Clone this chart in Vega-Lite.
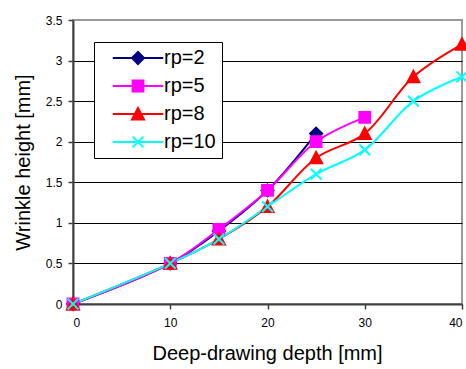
{
  "$schema": "https://vega.github.io/schema/vega-lite/v6.json",
  "width": 389,
  "height": 284,
  "autosize": {"type": "none"},
  "padding": {"left": 73, "top": 20, "right": 4, "bottom": 65},
  "background": "white",
  "config": {
    "font": "Liberation Sans",
    "view": {"stroke": "#999999", "strokeWidth": 2},
    "axis": {
      "labelFont": "Liberation Sans",
      "titleFont": "Liberation Sans",
      "labelFontSize": 12,
      "labelColor": "black",
      "titleColor": "black",
      "titleFontSize": 20,
      "titleFontWeight": "normal",
      "domainColor": "#404040",
      "domainWidth": 2,
      "tickColor": "#404040",
      "tickWidth": 1.5,
      "tickSize": 5
    },
    "legend": {
      "labelFont": "Liberation Sans",
      "labelFontSize": 20,
      "labelColor": "black"
    }
  },
  "data": {
    "values": [
      {"series": "rp=2", "depth": 0, "height": 0},
      {"series": "rp=2", "depth": 10, "height": 0.5},
      {"series": "rp=2", "depth": 15, "height": 0.9},
      {"series": "rp=2", "depth": 20, "height": 1.4},
      {"series": "rp=2", "depth": 25, "height": 2.1},
      {"series": "rp=5", "depth": 0, "height": 0},
      {"series": "rp=5", "depth": 10, "height": 0.5},
      {"series": "rp=5", "depth": 15, "height": 0.92},
      {"series": "rp=5", "depth": 20, "height": 1.4},
      {"series": "rp=5", "depth": 25, "height": 2.0},
      {"series": "rp=5", "depth": 30, "height": 2.3},
      {"series": "rp=8", "depth": 0, "height": 0},
      {"series": "rp=8", "depth": 10, "height": 0.5},
      {"series": "rp=8", "depth": 15, "height": 0.8},
      {"series": "rp=8", "depth": 20, "height": 1.2},
      {"series": "rp=8", "depth": 25, "height": 1.8},
      {"series": "rp=8", "depth": 30, "height": 2.1},
      {"series": "rp=8", "depth": 35, "height": 2.8},
      {"series": "rp=8", "depth": 40, "height": 3.2},
      {"series": "rp=10", "depth": 0, "height": 0},
      {"series": "rp=10", "depth": 10, "height": 0.5},
      {"series": "rp=10", "depth": 15, "height": 0.8},
      {"series": "rp=10", "depth": 20, "height": 1.2},
      {"series": "rp=10", "depth": 25, "height": 1.6},
      {"series": "rp=10", "depth": 30, "height": 1.9},
      {"series": "rp=10", "depth": 35, "height": 2.5},
      {"series": "rp=10", "depth": 40, "height": 2.8}
    ]
  },
  "encoding": {
    "x": {
      "field": "depth",
      "type": "quantitative",
      "scale": {"domain": [0, 40], "nice": false},
      "axis": {
        "values": [0, 10, 20, 30, 40],
        "grid": false,
        "title": "Deep-drawing depth [mm]",
        "labelPadding": 8,
        "titleX": 194,
        "titleY": 49,
        "titleBaseline": "middle",
        "titleAlign": "center"
      }
    },
    "y": {
      "field": "height",
      "type": "quantitative",
      "scale": {"domain": [0, 3.5], "nice": false},
      "axis": {
        "values": [0, 0.5, 1, 1.5, 2, 2.5, 3, 3.5],
        "format": ".1~f",
        "grid": true,
        "gridColor": {"condition": {"test": "datum.value >= 3.5", "value": "#999999"}, "value": "black"},
        "gridWidth": 1,
        "title": "Wrinkle height [mm]",
        "labelPadding": 6,
        "titleX": -50,
        "titleY": 142,
        "titleAngle": 270,
        "titleBaseline": "middle",
        "titleAlign": "center"
      }
    },
    "color": {
      "field": "series",
      "type": "nominal",
      "sort": ["rp=2", "rp=5", "rp=8", "rp=10"],
      "scale": {"domain": ["rp=2", "rp=5", "rp=8", "rp=10"], "range": ["#000080", "#FF00FF", "#FF0000", "#00FFFF"]},
      "legend": {
        "title": null,
        "orient": "none",
        "legendX": 21,
        "legendY": 22,
        "strokeColor": "black",
        "fillColor": "white",
        "padding": 6,
        "rowPadding": 8,
        "symbolSize": 144,
        "symbolOffset": 28,
        "labelOffset": 16,
        "symbolStrokeWidth": 2,
        "encode": {
          "symbols": {
            "update": {
              "shape": [
                {"test": "datum.value === 'rp=2'", "value": "M-4.2,0H4.2M0,-1L1,0L0,1L-1,0Z"},
                {"test": "datum.value === 'rp=5'", "value": "M-4.2,0H4.2M-0.9,-0.9H0.9V0.9H-0.9Z"},
                {"test": "datum.value === 'rp=8'", "value": "M-4.2,0H4.2M0,-1L1,0.9H-1Z"},
                {"value": "M-4.2,0H4.2M-0.9,-0.9L0.9,0.9M-0.9,0.9L0.9,-0.9"}
              ],
              "strokeWidth": {"value": 2}
            }
          }
        }
      }
    }
  },
  "layer": [
    {
      "mark": {"type": "line", "interpolate": "catmull-rom", "strokeWidth": 2}
    },
    {
      "mark": {"type": "point", "filled": true, "size": 144, "strokeWidth": 2, "opacity": 1},
      "encoding": {
        "shape": {
          "condition": [
            {"test": "datum.series === 'rp=2'", "value": "M0,-1L1,0L0,1L-1,0Z"},
            {"test": "datum.series === 'rp=5'", "value": "M-0.9,-0.9H0.9V0.9H-0.9Z"},
            {"test": "datum.series === 'rp=8'", "value": "M0,-1L1,0.9H-1Z"}
          ],
          "value": "M-0.9,-0.9L0.9,0.9M-0.9,0.9L0.9,-0.9"
        },
        "stroke": {
          "condition": [
            {"test": "datum.series === 'rp=2'", "value": "#000080"},
            {"test": "datum.series === 'rp=5'", "value": "#FF00FF"},
            {"test": "datum.series === 'rp=8'", "value": "#FF0000"}
          ],
          "value": "#00FFFF"
        }
      }
    }
  ]
}
